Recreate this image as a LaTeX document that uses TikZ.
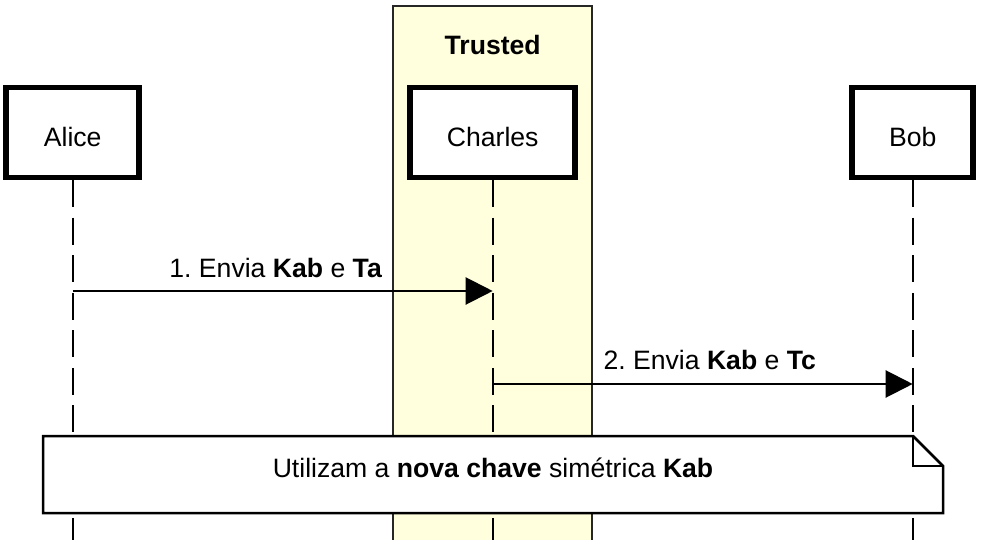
\documentclass[tikz,border=0pt]{standalone}
\usepackage{fontspec}
\setmainfont{Liberation Sans}
\usetikzlibrary{arrows.meta}
\definecolor{trustfill}{RGB}{255,255,221}
\frenchspacing
\begin{document}
\begin{tikzpicture}[x=1pt,y=-1pt,
  font=\fontsize{26.6}{31}\selectfont,
  actor/.style={draw=black, line width=5.5pt, fill=white, inner sep=0pt,
    minimum height=90pt, text height=27.5pt, text depth=0pt},
  lifeline/.style={draw=black, line width=2.3pt, dash pattern=on 27pt off 10.5pt},
  msg/.style={draw=black, line width=2.2pt, -{Triangle[length=27pt,width=27pt]}},
  msglabel/.style={anchor=base, inner sep=0pt},
  group/.style={draw=black!85, line width=2.2pt, fill=trustfill},
  notebox/.style={draw=black, line width=2.5pt, fill=white, line join=miter}
]
\useasboundingbox (0,0) rectangle (985,540);
\clip (0,0) rectangle (985,540);
\fill[white] (0,0) rectangle (985,540);

% trusted group
\path[group] (393,560) -- (393,6) -- (592,6) -- (592,560);
\node[anchor=base, font=\fontsize{26.6}{31}\selectfont\bfseries] (trustlbl) at (492.7,55) {Trusted};

% actors
\node[actor, minimum width=133pt] (alice) at (72.7,132.5) {Alice};
\node[actor, minimum width=165pt] (charles) at (492.7,132.5) {Charles};
\node[actor, minimum width=121pt] (bob) at (912.7,132.5) {Bob};

% lifelines
\coordinate (aliceEnd) at (alice.south |- 0,560);
\coordinate (charlesEnd) at (charles.south |- 0,560);
\coordinate (bobEnd) at (bob.south |- 0,560);
\draw[lifeline] (alice.south) -- (aliceEnd);
\draw[lifeline] (charles.south) -- (charlesEnd);
\draw[lifeline] (bob.south) -- (bobEnd);

% messages
\coordinate (m1s) at (alice.south |- 0,291);
\coordinate (m1e) at (charles.south |- 0,291);
\coordinate (m2s) at (charles.south |- 0,384);
\coordinate (m2e) at (bob.south |- 0,384);
\draw[msg] (m1s) -- node[msglabel, yshift=14pt, xshift=-7pt] (l1) {1. Envia \textbf{Kab} e \textbf{Ta}} (m1e);
\draw[msg] (m2s) -- node[msglabel, yshift=15pt, xshift=7pt] (l2) {2. Envia \textbf{Kab} e \textbf{Tc}} (m2e);

% note
\coordinate (nNW) at (43,436);
\coordinate (nFold) at (913,436);
\coordinate (nFoldB) at (913,466);
\coordinate (nE) at (943,466);
\coordinate (nSE) at (943,513);
\coordinate (nSW) at (43,513);
\path[notebox] (nNW) -- (nFold) -- (nE) -- (nSE) -- (nSW) -- cycle;
\draw[notebox, fill=none] (nFold) -- (nFoldB) -- (nE);
\node[anchor=base, inner sep=0pt] (notetext) at (493,477) {Utilizam a \textbf{nova chave} simétrica \textbf{Kab}};
\end{tikzpicture}
\end{document}
